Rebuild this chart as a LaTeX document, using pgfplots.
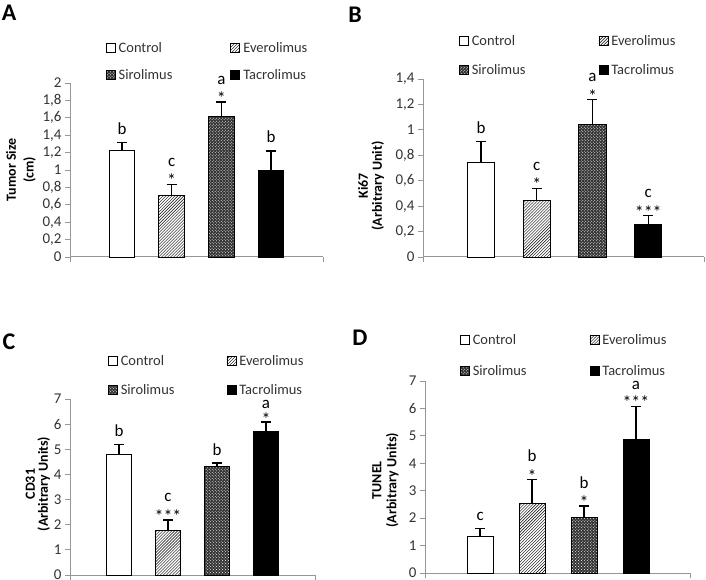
\documentclass[border=0pt]{standalone}
\usepackage{pgfplots}
\pgfplotsset{compat=1.18}
\usetikzlibrary{patterns}
\usepackage{fontspec}
\setmainfont{Carlito}
\definecolor{axgray}{RGB}{150,150,150}
\definecolor{txt}{RGB}{50,50,50}
\tikzset{ann/.style={anchor=base, font=\fontsize{17}{18}\selectfont, inner sep=0pt, text=black},
         ast/.style={anchor=base, font=\fontsize{18}{18}\selectfont, inner sep=0pt, text=black, yshift=-2.5bp}}
\pgfplotsset{
  panel/.style={
    scale only axis, clip=false,
    ybar, bar shift=0pt,
    axis x line*=bottom, axis y line*=left,
    axis line style={axgray, line width=1bp},
    tick align=outside, major tick length=5bp,
    every tick/.style={axgray, line width=0.9bp},
    xticklabels={},
    ymin=0,
    yticklabel style={font=\fontsize{15}{16}\selectfont, text=txt},
    /pgf/number format/.cd, use comma, assume math mode=true, /pgfplots/.cd,
    legend columns=2,
    legend image code/.code={\draw[##1, line width=0.8bp] (0bp,-4.5bp) rectangle (9bp,4.5bp);},
    legend style={font=\fontsize{14.5}{17}\selectfont, text=txt, draw=none, fill=none,
      inner sep=0pt, outer sep=0pt, anchor=north west,
      cells={anchor=west, inner sep=1.5bp},
      /tikz/column 1/.style={column sep=1bp},
      /tikz/column 3/.style={column sep=1bp}},
    ylabel style={anchor=center, align=center, text=black},
  },
  ctrl/.style={draw=black, line width=0.9bp, fill=white},
  ever/.style={draw=black, line width=0.9bp, fill=white, postaction={pattern=north east lines}},
  siro/.style={draw=black, line width=0.9bp, fill=black!80, postaction={pattern=crosshatch dots, pattern color=white}},
  tacro/.style={draw=black, line width=0.9bp, fill=black},
  eb/.style={error bars/y dir=plus, error bars/y explicit,
    error bars/error bar style={black, line width=1.3bp, solid},
    error bars/error mark options={black, rotate=90, mark size=5bp, line width=1.3bp}},
}
\begin{document}
\begin{tikzpicture}
\path[use as bounding box] (0bp,0bp) rectangle (706bp,580bp);
\node[font=\bfseries\fontsize{24}{24}\selectfont] at (9bp,567bp) {A};
\node[font=\bfseries\fontsize{24}{24}\selectfont] at (355bp,565bp) {B};
\node[font=\bfseries\fontsize{24}{24}\selectfont] at (9bp,238bp) {C};
\node[font=\bfseries\fontsize{24}{24}\selectfont] at (360bp,242bp) {D};

% ---------- A ----------
\begin{axis}[panel, at={(70bp,323bp)}, anchor=south west, width=253bp, height=174bp,
  xmin=-1.046, xmax=4.046, xtick={-1.046,4.046},
  ymax=2, ytick={0,0.2,...,2.01},
  yticklabel={\pgfmathprintnumber[fixed,precision=1,use comma]{\tick}},
  ylabel={Tumor Size\\(cm)},
  ylabel style={font=\bfseries\fontsize{14}{18}\selectfont, at={(axis description cs:-0.194,0.50)}},
  legend style={at={(0.142,1.247)}, row sep=12bp, /tikz/column 2/.style={column sep=56bp}}]
\addplot[ctrl, bar width=0.52, eb] coordinates {(0,1.22) +- (0,0.095)};
\addplot[ever, bar width=0.52, eb] coordinates {(1,0.71) +- (0,0.125)};
\addplot[siro, bar width=0.52, eb] coordinates {(2,1.61) +- (0,0.17)};
\addplot[tacro, bar width=0.52, eb] coordinates {(3,0.99) +- (0,0.23)};
\legend{Control,Everolimus,Sirolimus,Tacrolimus}
\node[ann, yshift=8bp] at (axis cs:0,1.315) {b};
\node[ast] at (axis cs:1,0.835) {*};
\node[ann, yshift=18bp] at (axis cs:1,0.835) {c};
\node[ast] at (axis cs:2,1.78) {*};
\node[ann, yshift=18bp] at (axis cs:2,1.78) {a};
\node[ann, yshift=8bp] at (axis cs:3,1.22) {b};
\end{axis}

% ---------- B ----------
\begin{axis}[panel, at={(423bp,323bp)}, anchor=south west, width=281bp, height=178bp,
  xmin=-1.04, xmax=4.0, xtick={-1.04,4.0},
  ymax=1.4, ytick={0,0.2,...,1.41},
  yticklabel={\pgfmathprintnumber[fixed,precision=1,use comma]{\tick}},
  ylabel={Ki67\\(Arbitrary Unit)},
  ylabel style={font=\bfseries\fontsize{14}{14}\selectfont, at={(axis description cs:-0.185,0.399)}},
  legend style={at={(0.128,1.258)}, row sep=14bp, /tikz/column 2/.style={column sep=71bp}}]
\addplot[ctrl, bar width=0.49, eb] coordinates {(0,0.745) +- (0,0.163)};
\addplot[ever, bar width=0.49, eb] coordinates {(1,0.442) +- (0,0.098)};
\addplot[siro, bar width=0.49, eb] coordinates {(2,1.045) +- (0,0.192)};
\addplot[tacro, bar width=0.49, eb] coordinates {(3,0.253) +- (0,0.071)};
\legend{Control,Everolimus,Sirolimus,Tacrolimus}
\node[ann, yshift=8bp] at (axis cs:0,0.908) {b};
\node[ast] at (axis cs:1,0.54) {*};
\node[ann, yshift=18bp] at (axis cs:1,0.54) {c};
\node[ast] at (axis cs:2,1.237) {*};
\node[ann, yshift=18bp] at (axis cs:2,1.237) {a};
\node[ast] at (axis cs:3,0.324) {***};
\node[ann, yshift=18bp] at (axis cs:3,0.324) {c};
\end{axis}

% ---------- C ----------
\begin{axis}[panel, at={(70bp,5bp)}, anchor=south west, width=245bp, height=176bp,
  xmin=-1.0, xmax=4.0, xtick={-1.0,4.0},
  ymax=7, ytick={0,1,...,7},
  ylabel={CD31\\(Arbitrary Units)},
  ylabel style={font=\bfseries\fontsize{14}{13}\selectfont, at={(axis description cs:-0.131,0.517)}},
  legend style={at={(0.155,1.261)}, row sep=14bp, /tikz/column 2/.style={column sep=50bp}}]
\addplot[ctrl, bar width=0.5, eb] coordinates {(0,4.78) +- (0,0.40)};
\addplot[ever, bar width=0.5, eb] coordinates {(1,1.77) +- (0,0.42)};
\addplot[siro, bar width=0.5, eb] coordinates {(2,4.32) +- (0,0.13)};
\addplot[tacro, bar width=0.5, eb] coordinates {(3,5.72) +- (0,0.36)};
\legend{Control,Everolimus,Sirolimus,Tacrolimus}
\node[ann, yshift=8bp] at (axis cs:0,5.18) {b};
\node[ast] at (axis cs:1,2.19) {***};
\node[ann, yshift=18bp] at (axis cs:1,2.19) {c};
\node[ann, yshift=8bp] at (axis cs:2,4.45) {b};
\node[ast, yshift=-1bp] at (axis cs:3,6.08) {*};
\node[ann, yshift=14bp] at (axis cs:3,6.08) {a};
\end{axis}

% ---------- D ----------
\begin{axis}[panel, at={(425bp,7bp)}, anchor=south west, width=265bp, height=192bp,
  xmin=-1.06, xmax=4.04, xtick={-1.06,4.04},
  ymax=7, ytick={0,1,...,7},
  ylabel={TUNEL\\(Arbitrary Units)},
  ylabel style={font=\bfseries\fontsize{14}{15}\selectfont, at={(axis description cs:-0.149,0.484)}},
  legend style={at={(0.132,1.255)}, row sep=16bp, /tikz/column 2/.style={column sep=61bp}}]
\addplot[ctrl, bar width=0.5, eb] coordinates {(0,1.35) +- (0,0.27)};
\addplot[ever, bar width=0.5, eb] coordinates {(1,2.52) +- (0,0.88)};
\addplot[siro, bar width=0.5, eb] coordinates {(2,2.03) +- (0,0.41)};
\addplot[tacro, bar width=0.5, eb] coordinates {(3,4.86) +- (0,1.22)};
\legend{Control,Everolimus,Sirolimus,Tacrolimus}
\node[ann, yshift=8bp] at (axis cs:0,1.62) {c};
\node[ast] at (axis cs:1,3.4) {*};
\node[ann, yshift=18bp] at (axis cs:1,3.4) {b};
\node[ast] at (axis cs:2,2.44) {*};
\node[ann, yshift=18bp] at (axis cs:2,2.44) {b};
\node[ast] at (axis cs:3,6.08) {***};
\node[ann, yshift=17bp] at (axis cs:3,6.08) {a};
\end{axis}
\end{tikzpicture}
\end{document}
